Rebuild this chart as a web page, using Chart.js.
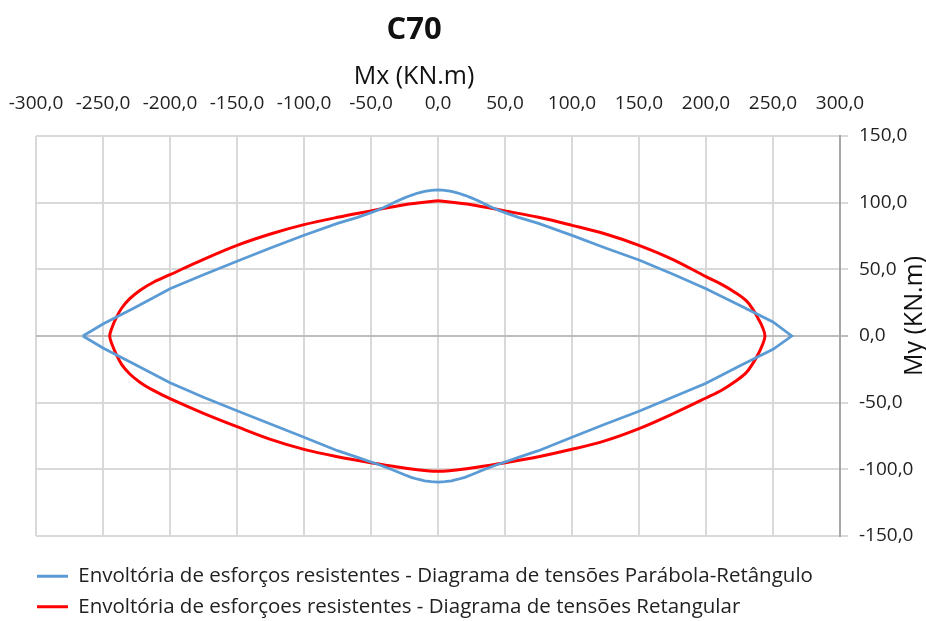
<!DOCTYPE html>
<html><head><meta charset="utf-8">
<script src="https://cdn.jsdelivr.net/npm/chart.js@4"></script>
<style>html,body{margin:0;padding:0;background:#fff}#wrap{width:926px;height:621px;position:relative}</style>
</head><body><div id="wrap"><canvas id="c"></canvas></div>
<script>
const chartTitle = 'C70';
const xAxisTitle = 'Mx (KN.m)';
const yAxisTitle = 'My (KN.m)';
const seriesNames = [
  'Envoltória de esforços resistentes - Diagrama de tensões Parábola-Retângulo',
  'Envoltória de esforçoes resistentes - Diagrama de tensões Retangular'
];
const xTickLabels = ['-300,0','-250,0','-200,0','-150,0','-100,0','-50,0','0,0','50,0','100,0','150,0','200,0','250,0','300,0'];
const yTickLabels = ['-150,0','-100,0','-50,0','0,0','50,0','100,0','150,0'];

// Parábola-Retângulo envelope (blue), closed loop
const blueX = [-265,-250,-225,-200,-175,-150,-125,-100,-75,-60,-50,-45,-40,-35,-30,-25,-20,-15,-10,-5,0,5,10,15,20,25,30,35,40,45,50,60,75,100,125,150,175,200,225,250,264,
  250,225,200,175,150,125,100,75,60,50,45,40,35,30,25,20,15,10,5,0,-5,-10,-15,-20,-25,-30,-35,-40,-45,-50,-60,-75,-100,-125,-150,-175,-200,-225,-250,-265];
const blueY = [0,9,22,35.5,46,56,66,75.5,84.5,89,92.5,94.4,96.5,99,101.5,103.6,105.5,107.2,108.5,109.2,109.5,109.2,108.5,107.2,105.5,103.6,101.5,99,96.5,94.4,92.5,89,84.5,75.5,66,57,46.5,35.5,23,10.5,0,
  -10,-22.5,-35.5,-46,-56.5,-66,-76,-86,-91,-94.5,-96.2,-98,-100,-102,-104,-106,-107.4,-108.6,-109.3,-109.5,-109.3,-108.6,-107.4,-106,-104,-102,-100,-98,-96.2,-94.5,-91,-86,-76,-66,-56,-46,-35,-22,-9,0];

// Retangular envelope (red), closed loop
const redX = [0,25,50,75,100,125,150,175,200,212,222,230,235,239,242,244,
  242,239,235,230,222,212,200,175,150,125,100,75,50,25,0,
  -25,-50,-75,-100,-125,-150,-175,-200,-212,-222,-230,-236,-240,-243,-245,
  -243,-240,-236,-230,-222,-212,-200,-175,-150,-125,-100,-75,-50,-25,0];
const redY = [101.5,98.5,93.8,89,83,76.5,68,57.5,44.5,38.5,32.5,26.5,20,13,7,0,
  -7,-13.5,-20.5,-27.5,-34,-40.5,-46.5,-58.5,-69.5,-78.5,-85,-90.5,-95,-99,-101.5,
  -99,-95,-90.5,-85,-77.5,-68,-58,-47,-41,-35,-28.5,-21.5,-14,-7,0,
  7,14,21,28,34.5,40.5,46,57.5,68,76.5,83.5,89,93.8,98.5,101.5];

const FONT = '"Open Sans", "Liberation Sans", sans-serif';
const toPts = (xs, ys) => xs.map((x, i) => ({x: x, y: ys[i]}));

const textPlugin = {
  id: 'textPlugin',
  afterDraw(chart) {
    const ctx = chart.ctx;
    ctx.save();
    ctx.fillStyle = '#111';
    ctx.textAlign = 'center';
    ctx.textBaseline = 'middle';
    ctx.font = 'bold 31px ' + FONT;
    ctx.fillText(chartTitle, 414, 30);
    ctx.font = '25px ' + FONT;
    ctx.fillText(xAxisTitle, 414, 77);
    ctx.translate(915, 316);
    ctx.rotate(-Math.PI / 2);
    ctx.fillText(yAxisTitle, 0, 0);
    ctx.restore();
  }
};

new Chart(document.getElementById('c'), {
  type: 'scatter',
  data: {
    datasets: [
      { label: seriesNames[0], data: toPts(blueX, blueY), showLine: true, borderColor: '#5B9BD5', backgroundColor: '#5B9BD5', borderWidth: 2.75, pointRadius: 0, tension: 0, fill: false },
      { label: seriesNames[1], data: toPts(redX, redY), showLine: true, borderColor: '#FF0000', backgroundColor: '#FF0000', borderWidth: 3, pointRadius: 0, tension: 0.35, fill: false }
    ]
  },
  options: {
    responsive: true,
    maintainAspectRatio: false,
    animation: false,
    devicePixelRatio: 1,
    layout: { padding: { top: 96, right: 0, bottom: -6, left: 27 } },
    plugins: {
      title: { display: false },
      tooltip: { enabled: false },
      legend: {
        position: 'bottom',
        align: 'start',
        labels: {
          font: { family: FONT, size: 20.5 },
          color: '#222',
          boxWidth: 31,
          boxHeight: 3,
          padding: 10,
          generateLabels(chart) {
            return Chart.defaults.plugins.legend.labels.generateLabels(chart).map(l => Object.assign(l, { fillStyle: l.strokeStyle, lineWidth: 0 }));
          }
        }
      }
    },
    scales: {
      x: {
        type: 'linear', position: 'top', min: -300, max: 300,
        ticks: { stepSize: 50, padding: 21, color: '#222', font: { family: FONT, size: 19 }, maxRotation: 0,
          showLabelBackdrop: true, backdropColor: '#ffffff', backdropPadding: 1,
          callback: (v, i) => xTickLabels[i] },
        grid: { color: '#d9d9d9', lineWidth: 2, drawTicks: false },
        border: { display: false },
        afterFit(s) { s.height = 40; s.paddingLeft = 0; s.paddingRight = 0; }
      },
      y: {
        type: 'linear', position: 'right', min: -150, max: 150,
        ticks: { stepSize: 50, padding: 11, color: '#222', font: { family: FONT, size: 19 },
          callback: (v, i) => yTickLabels[i] },
        grid: { color: c => (c.tick && c.tick.value === 0) ? '#bdbdbd' : '#d9d9d9', lineWidth: 2, drawTicks: true, tickLength: 8 },
        border: { display: true, color: '#a6a6a6', width: 2 },
        afterFit(s) { s.width = 86; s.paddingTop = 0; s.paddingBottom = 0; }
      },
      padBottom: {
        type: 'linear', position: 'bottom', display: true,
        ticks: { display: false }, grid: { display: false }, border: { display: false },
        afterFit(s) { s.height = 20; }
      },
      padLeft: {
        type: 'linear', position: 'left', display: true,
        ticks: { display: false }, grid: { display: false }, border: { display: false },
        afterFit(s) { s.width = 9; }
      }
    }
  },
  plugins: [textPlugin]
});
</script>
</body></html>
